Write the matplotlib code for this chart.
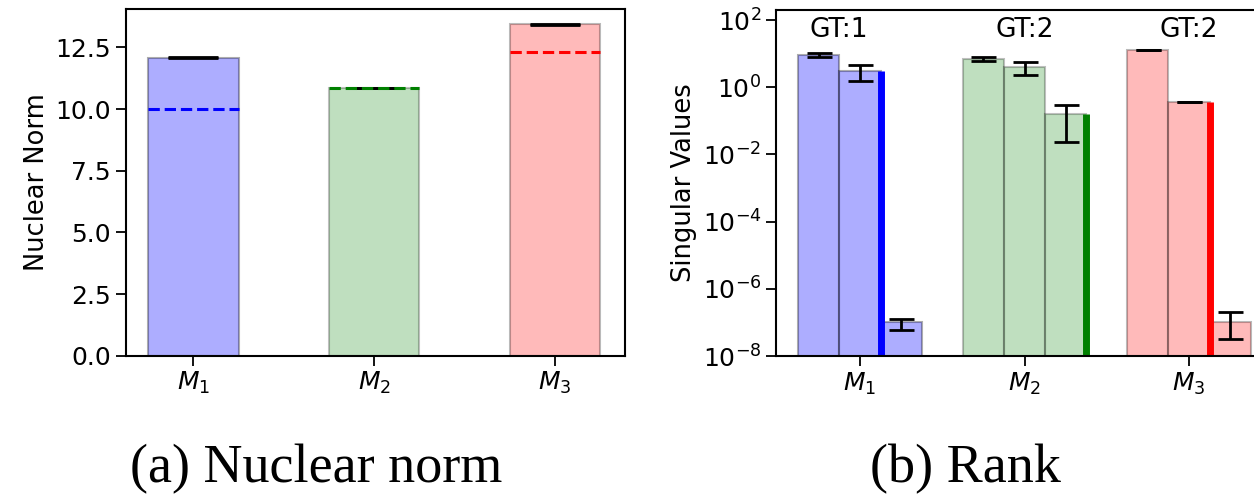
import numpy as np
import matplotlib.pyplot as plt

# data
models = ['$M_1$', '$M_2$', '$M_3$']
colors = ['blue', 'green', 'red']
fill_alpha = [0.32, 0.25, 0.27]

nuclear_norm = [12.08, 10.85, 13.43]
nuclear_err = [0.015, 0.015, 0.015]
nuclear_gt = [10.0, 10.87, 12.33]

sv1 = [9.0, 6.9, 12.7]
sv1_lo = [7.8, 6.0, 12.6]
sv1_hi = [10.5, 7.8, 12.8]
sv2 = [3.0, 4.0, 0.36]
sv2_lo = [1.5, 2.4, 0.355]
sv2_hi = [4.5, 5.5, 0.365]
sv3 = [1.0e-7, 0.16, 1.0e-7]
sv3_lo = [6.0e-8, 0.023, 3.3e-8]
sv3_hi = [1.3e-7, 0.29, 2.0e-7]
est_rank = [2, 3, 2]
gt_labels = ['GT:1', 'GT:2', 'GT:2']
gt_offset = [-0.13, 0.0, 0.0]

W, H = 1254, 494
fig = plt.figure(figsize=(W / 100, H / 100), dpi=100)
fs = 18

# (a) nuclear norm
ax1 = fig.add_axes([125.7 / W, 1 - 355.7 / H, (625.3 - 125.7) / W, (355.7 - 8.7) / H])
x = np.arange(len(models))
bw = 0.5
for i in range(len(models)):
    ax1.bar(x[i], nuclear_norm[i], bw, color=colors[i], alpha=fill_alpha[i], edgecolor='black', linewidth=1.5)
    ax1.errorbar(x[i], nuclear_norm[i], yerr=nuclear_err[i], color='black', capsize=18, lw=2, capthick=2)
    ax1.hlines(nuclear_gt[i], x[i] - bw / 2, x[i] + bw / 2, colors=colors[i], linestyles='--', lw=2.2)
ax1.set_xlim(-0.375, 2.39)
ax1.set_ylim(0, 14.07)
ax1.set_xticks(x)
ax1.set_xticklabels(models)
ax1.set_yticks(np.arange(0, 12.6, 2.5))
ax1.set_ylabel('Nuclear Norm', fontsize=18.5)
ax1.tick_params(labelsize=fs, width=1.3, length=7)
for s in ax1.spines.values():
    s.set_linewidth(1.5)

# (b) rank
ax2 = fig.add_axes([776 / W, 1 - 356 / H, (1273 - 776) / W, (356 - 10) / H])
w = 0.25
svs = [sv1, sv2, sv3]
los = [sv1_lo, sv2_lo, sv3_lo]
his = [sv1_hi, sv2_hi, sv3_hi]
for i in range(len(models)):
    for k in range(3):
        xb = x[i] + (k - 1) * w
        v = svs[k][i]
        ax2.bar(xb, v, w, color=colors[i], alpha=fill_alpha[i], edgecolor='black', linewidth=1.5)
        ax2.errorbar(xb, v, yerr=[[v - los[k][i]], [his[k][i] - v]], color='black',
                     capsize=9, lw=2, capthick=2)
    r = est_rank[i]
    xr = x[i] + (r - 1.5) * w
    ax2.vlines(xr, 1e-8, svs[r - 1][i], colors=colors[i], lw=5)
    ax2.text(x[i] + gt_offset[i], 50, gt_labels[i], ha='center', va='center', fontsize=19)
ax2.set_yscale('log')
ax2.set_ylim(1e-8, 2e2)
ax2.set_xlim(-0.51, 2.51)
ax2.set_yticks([1e-8, 1e-6, 1e-4, 1e-2, 1e0, 1e2])
ax2.minorticks_off()
ax2.set_xticks(x)
ax2.set_xticklabels(models)
ax2.set_ylabel('Singular Values', fontsize=18.5)
ax2.tick_params(labelsize=fs, width=1.3, length=7)
for s in ax2.spines.values():
    s.set_linewidth(1.5)

cap = dict(fontsize=39, family='Liberation Serif', va='baseline', ha='left')
fig.text(130 / W, 1 - 482 / H, '(a) Nuclear norm', **cap)
fig.text(870 / W, 1 - 482 / H, '(b) Rank', **cap)

fig.savefig('out.png', dpi=100)
